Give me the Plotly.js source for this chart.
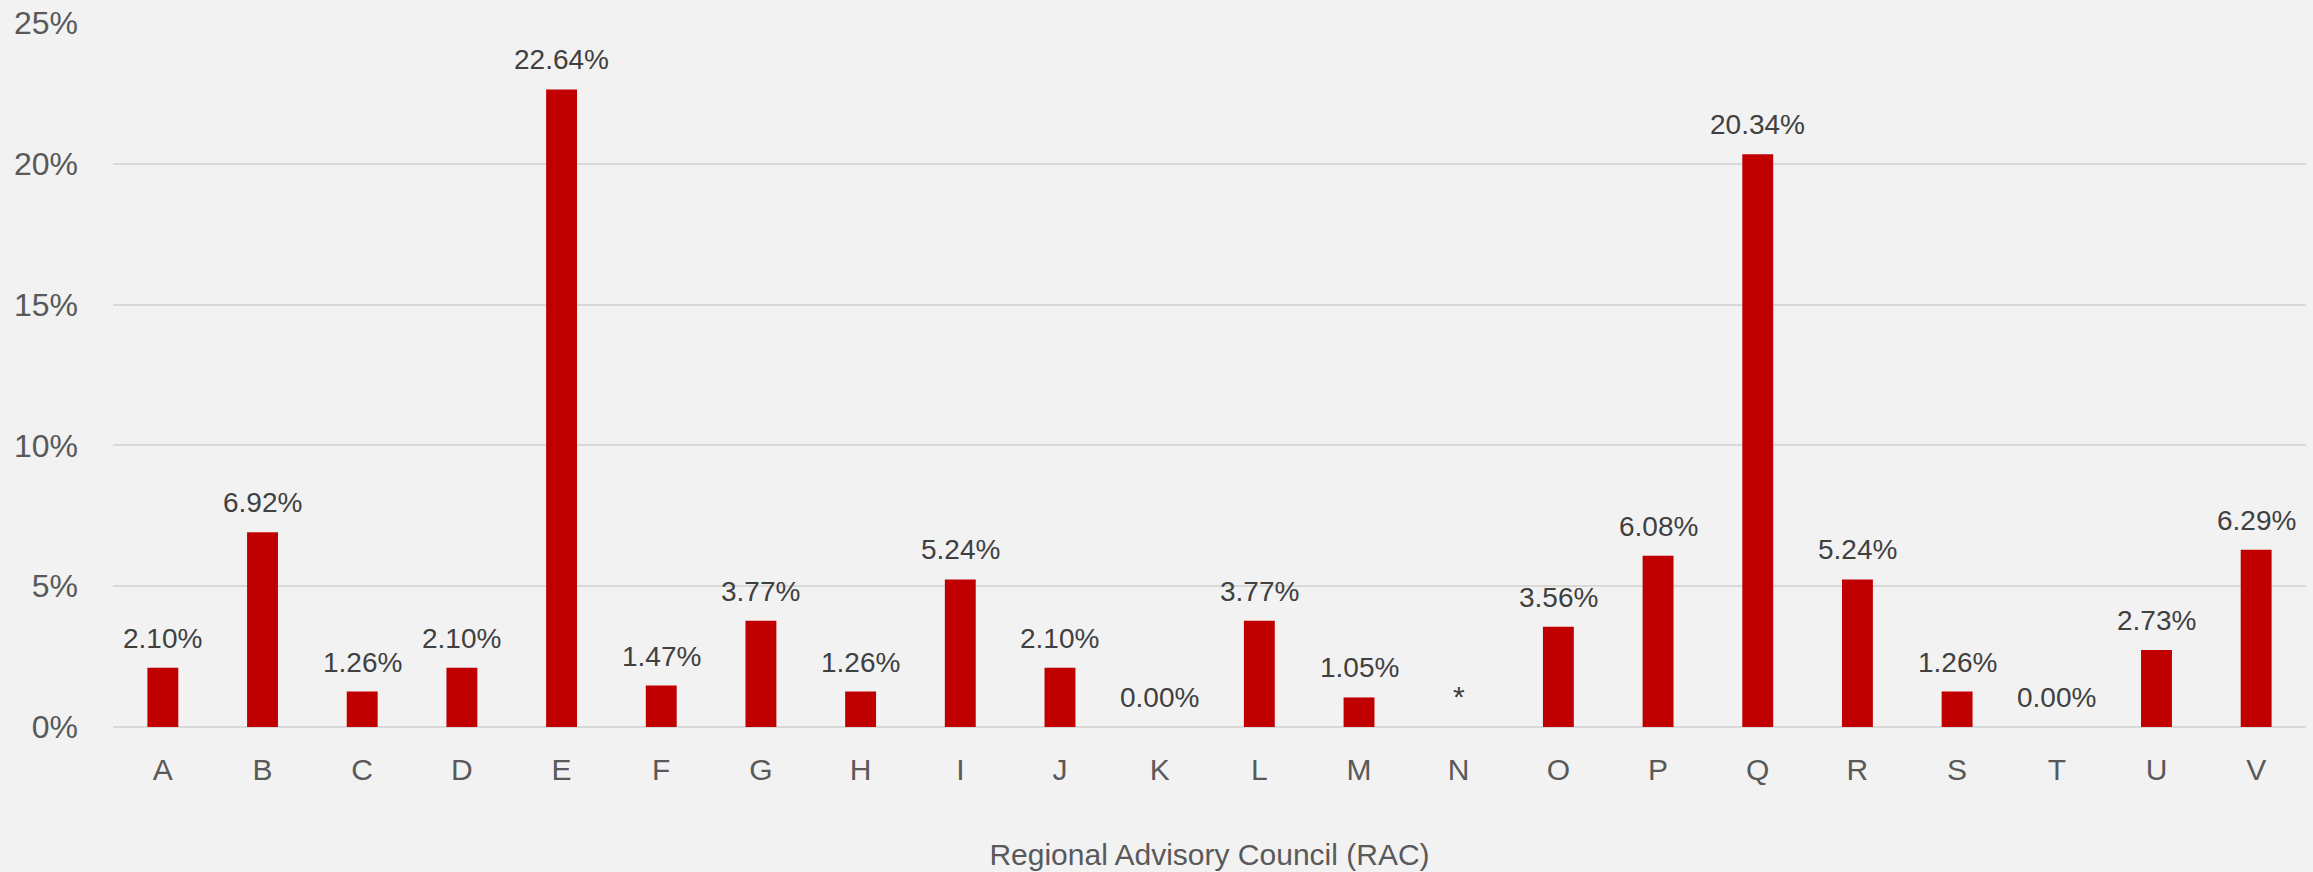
<!DOCTYPE html>
<html>
<head>
<meta charset="utf-8">
<script src="https://cdn.plot.ly/plotly-3.0.1.min.js"></script>
<style>
html,body{margin:0;padding:0;background:#F2F2F2;}
#chart{width:2313px;height:872px;}
</style>
</head>
<body>
<div id="chart"></div>
<script>
const categories = ["A","B","C","D","E","F","G","H","I","J","K","L","M","N","O","P","Q","R","S","T","U","V"];
const values = [2.10, 6.92, 1.26, 2.10, 22.64, 1.47, 3.77, 1.26, 5.24, 2.10, 0.00, 3.77, 1.05, 0, 3.56, 6.08, 20.34, 5.24, 1.26, 0.00, 2.73, 6.29];
const labels = ["2.10%","6.92%","1.26%","2.10%","22.64%","1.47%","3.77%","1.26%","5.24%","2.10%","0.00%","3.77%","1.05%","*","3.56%","6.08%","20.34%","5.24%","1.26%","0.00%","2.73%","6.29%"];
const yTicks = [0, 5, 10, 15, 20, 25];
const yTickText = ["0%","5%","10%","15%","20%","25%"];

const FONT = "Liberation Sans, Arial, sans-serif";

const annotations = categories.map((c, i) => ({
  x: c, y: values[i], xref: 'x', yref: 'y',
  text: labels[i], showarrow: false,
  yanchor: 'bottom', yshift: 12,
  font: {family: FONT, size: labels[i] === '*' ? 30 : 28, color: '#404040'}
}));

const trace = {
  type: 'bar',
  x: categories,
  y: values,
  marker: {color: '#C00000', line: {width: 0}},
  hoverinfo: 'x+y'
};

const layout = {
  width: 2313, height: 872,
  paper_bgcolor: '#F2F2F2', plot_bgcolor: '#F2F2F2',
  margin: {l: 113, r: 7, t: 23, b: 145},
  bargap: 0.69,
  showlegend: false,
  font: {family: FONT, color: '#595959'},
  xaxis: {
    type: 'category',
    tickfont: {family: FONT, size: 30, color: '#595959'},
    ticks: '', showgrid: false, zeroline: false,
    showline: false,
    ticklabelstandoff: 22,
    title: {text: 'Regional Advisory Council (RAC)', font: {family: FONT, size: 30, color: '#595959'}, standoff: 58}
  },
  yaxis: {
    range: [0, 25],
    tickvals: yTicks, ticktext: yTickText,
    tickfont: {family: FONT, size: 32, color: '#595959'},
    showgrid: true, gridcolor: '#D9D9D9', gridwidth: 2,
    zeroline: true, zerolinecolor: '#D9D9D9', zerolinewidth: 2,
    ticks: '', showline: false,
    ticklabelstandoff: 34
  },
  annotations: annotations
};

Plotly.newPlot('chart', [trace], layout, {displayModeBar: false, staticPlot: true});
</script>
</body>
</html>
